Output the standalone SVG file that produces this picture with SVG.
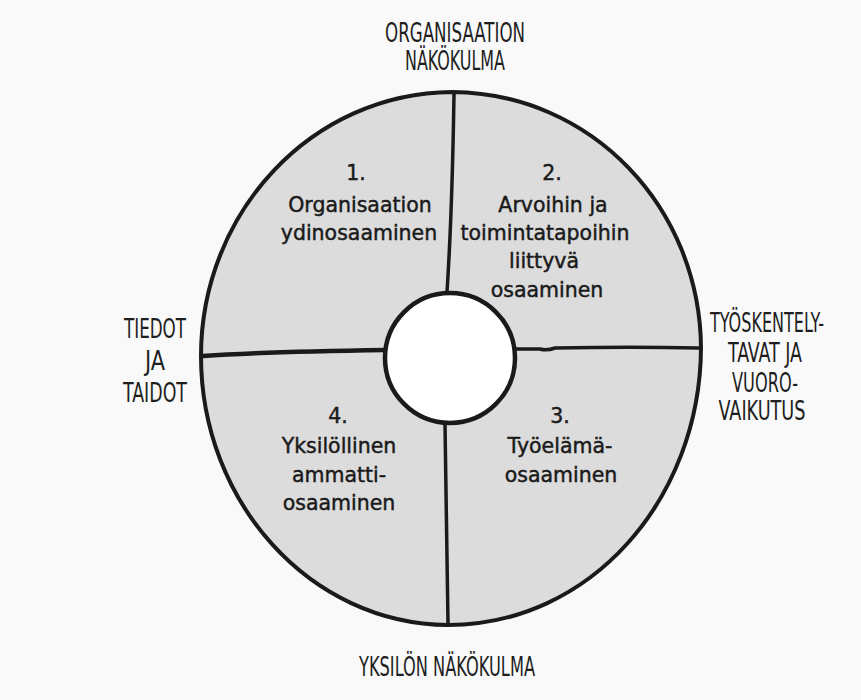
<svg xmlns="http://www.w3.org/2000/svg" width="861" height="700" viewBox="0 0 861 700">
  <style>
    .outline { fill: #dcdcdc; stroke: #1a1a1a; stroke-width: 4; stroke-linejoin: round; }
    .divider { fill: none; stroke: #1a1a1a; stroke-width: 3.5; stroke-linecap: round; }
    .hub { fill: #ffffff; stroke: #1a1a1a; stroke-width: 4.5; }
    .area { font-family: "DejaVu Sans", "Noto Sans", sans-serif; font-size: 20.5px; fill: #1a1a1a; stroke: #1a1a1a; stroke-width: 0.45; text-anchor: middle; }
    .axis { font-family: "Liberation Sans Narrow", "DejaVu Sans Condensed", "DejaVu Sans", sans-serif; font-stretch: condensed; font-size: 26px; fill: #1e1e1e; text-anchor: middle; }
  </style>

  <rect x="0" y="0" width="861" height="700" fill="#f9f9f9"/>

  <!-- outer disc -->
  <g id="disc">
    <path class="outline" d="M 452 92 C 592 93 700 208 701 348 C 700 500 590 625 448 625 C 310 624 201 502 201 356 C 201 212 312 93 452 92 Z"/>
  </g>

  <!-- quadrant dividers -->
  <g id="connectors">
    <path class="divider" d="M 454 94 C 453 160 451 230 447 292"/>
    <path class="divider" d="M 445 424 C 446 490 447 560 448 623"/>
    <path class="divider" style="stroke-width:4.5" d="M 203 356 C 260 352 320 351 386 350"/>
    <path class="divider" d="M 515 349 L 540 349 Q 547 351 555 348 C 600 347 660 347 699 348"/>
  </g>

  <!-- centre hub -->
  <g id="hub">
    <circle class="hub" cx="450" cy="358" r="65"/>
  </g>

  <!-- quadrant 1 -->
  <g id="q1">
    <text class="area" x="356" y="180">1.</text>
    <text class="area" x="360" y="212">Organisaation</text>
    <text class="area" x="359" y="240">ydinosaaminen</text>
  </g>

  <!-- quadrant 2 -->
  <g id="q2">
    <text class="area" x="552" y="180">2.</text>
    <text class="area" x="553" y="212">Arvoihin ja</text>
    <text class="area" x="545" y="240">toimintatapoihin</text>
    <text class="area" x="544" y="268">liittyvä</text>
    <text class="area" x="547" y="297">osaaminen</text>
  </g>

  <!-- quadrant 3 -->
  <g id="q3">
    <text class="area" x="560" y="423">3.</text>
    <text class="area" x="560" y="453">Työelämä-</text>
    <text class="area" x="561" y="482">osaaminen</text>
  </g>

  <!-- quadrant 4 -->
  <g id="q4">
    <text class="area" x="338" y="423">4.</text>
    <text class="area" x="339" y="453">Yksilöllinen</text>
    <text class="area" x="339" y="482">ammatti-</text>
    <text class="area" x="339" y="510">osaaminen</text>
  </g>

  <!-- axis labels -->
  <g id="label-top">
    <text class="axis" x="455" y="42" textLength="140" lengthAdjust="spacingAndGlyphs">ORGANISAATION</text>
    <text class="axis" x="455" y="70" textLength="100" lengthAdjust="spacingAndGlyphs">NÄKÖKULMA</text>
  </g>
  <g id="label-left">
    <text class="axis" x="155" y="338" textLength="62" lengthAdjust="spacingAndGlyphs">TIEDOT</text>
    <text class="axis" x="155" y="370" textLength="20" lengthAdjust="spacingAndGlyphs">JA</text>
    <text class="axis" x="155" y="402" textLength="64" lengthAdjust="spacingAndGlyphs">TAIDOT</text>
  </g>
  <g id="label-right">
    <g transform="translate(767 332) scale(0.7 1)">
      <text class="axis" x="0" y="0" textLength="163" lengthAdjust="spacingAndGlyphs">TYÖSKENTELY-</text>
    </g>
    <text class="axis" x="765" y="362" textLength="74" lengthAdjust="spacingAndGlyphs">TAVAT JA</text>
    <text class="axis" x="765" y="392" textLength="66" lengthAdjust="spacingAndGlyphs">VUORO-</text>
    <text class="axis" x="762" y="420" textLength="87" lengthAdjust="spacingAndGlyphs">VAIKUTUS</text>
  </g>
  <g id="label-bottom">
    <text class="axis" x="447" y="676" textLength="176" lengthAdjust="spacingAndGlyphs">YKSILÖN NÄKÖKULMA</text>
  </g>
</svg>
